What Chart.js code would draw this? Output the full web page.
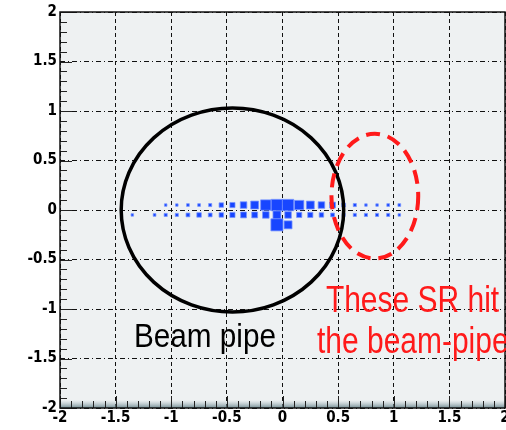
<!DOCTYPE html>
<html>
<head>
<meta charset="utf-8">
<script src="https://cdn.jsdelivr.net/npm/chart.js@4.4.0/dist/chart.umd.min.js"></script>
<style>
html, body { margin: 0; padding: 0; background: #fff; }
canvas { display: block; }
</style>
</head>
<body>
<canvas id="myChart" width="506" height="430"></canvas>
<script>
// axis ticks
var xTicks = [-2, -1.5, -1, -0.5, 0, 0.5, 1, 1.5, 2];
var yTicks = [-2, -1.5, -1, -0.5, 0, 0.5, 1, 1.5, 2];
var binWidth = 0.1;

// hit bins, row at y = +0.05
var upperX = [-1.05, -0.95, -0.85, -0.75, -0.65, -0.55, -0.45, -0.35, -0.25, -0.15, -0.05,
              0.05, 0.15, 0.25, 0.35, 0.45, 0.55, 0.65, 0.75, 0.85, 0.95, 1.05];
var upperHits = [4, 2, 5, 5, 6, 10, 12, 16, 20, 27, 30,
                 30, 24, 20, 16, 14, 8, 6, 4, 3, 5, 5];

// row at y = -0.05
var lowerX = [-1.35, -1.15, -1.05, -0.95, -0.85, -0.75, -0.65, -0.55, -0.45, -0.35, -0.25, -0.15, -0.05,
              0.05, 0.15, 0.25, 0.35, 0.45, 0.55, 0.65, 0.75, 0.85, 0.95, 1.05];
var lowerHits = [4, 5, 6, 6, 8, 10, 8, 10, 12, 14, 14, 16, 20,
                 16, 12, 12, 10, 8, 6, 6, 6, 6, 6, 4];

// row at y = -0.15
var bottomX = [-0.05, 0.05];
var bottomHits = [32, 20];

var rowY = [0.05, -0.05, -0.15];

var beamPipe = { x: -0.45, y: 0, rx: 1.0, ry: 1.03 };
var srSpot = { x: 0.83, y: 0.14, rx: 0.39, ry: 0.63 };

var beamLabel = { text: "Beam pipe", x: -1.335, y: -1.384 };
var srLabel1 = { text: "These SR hit", x: 0.39, y: -1.03 };
var srLabel2 = { text: "the beam-pipe", x: 0.31, y: -1.445 };

var maxHits = Math.max.apply(null, upperHits.concat(lowerHits, bottomHits));

function toPoints(xs, hits, y) {
	var pts = [];
	for (var i = 0; i < xs.length; i++) {
		pts.push({ x: xs[i], y: y, h: hits[i] });
	}
	return pts;
}

var allPoints = toPoints(upperX, upperHits, rowY[0])
	.concat(toPoints(lowerX, lowerHits, rowY[1]))
	.concat(toPoints(bottomX, bottomHits, rowY[2]));

var tickFont = { family: "'Liberation Sans Narrow', 'DejaVu Sans Condensed', 'Liberation Sans', sans-serif", size: 15, weight: 'bold' };

// box size follows the bin content
function boxRadius(ctx) {
	var sx = ctx.chart.scales.x;
	var bw = Math.abs(sx.getPixelForValue(binWidth) - sx.getPixelForValue(0));
	var side = 1 + Math.max(1.5, ctx.raw.h / maxHits * bw);
	return side / Math.SQRT2;
}

var framePlugin = {
	id: 'frame',
	beforeDraw: function(chart) {
		var a = chart.chartArea, c = chart.ctx;
		c.save();
		c.fillStyle = '#eef1f2';
		c.fillRect(a.left, a.top, a.right - a.left, a.bottom - a.top);
		c.restore();
	},
	beforeDatasetsDraw: function(chart) {
		var a = chart.chartArea, c = chart.ctx;
		c.save();
		var g = c.createLinearGradient(0, a.bottom - 8, 0, a.bottom);
		g.addColorStop(0, 'rgba(160,180,185,0)');
		g.addColorStop(1, 'rgba(90,120,128,0.85)');
		c.fillStyle = g;
		c.fillRect(a.left, a.bottom - 8, a.right - a.left, 8);
		c.restore();
	},
	afterDatasetsDraw: function(chart) {
		var a = chart.chartArea, c = chart.ctx;
		var sx = chart.scales.x, sy = chart.scales.y;
		c.save();
		c.strokeStyle = '#222';
		c.lineWidth = 1;
		c.beginPath();
		for (var k = -20; k <= 20; k++) {
			var len = (k % 5 === 0) ? 12 : 7;
			var px = Math.round(sx.getPixelForValue(k / 10)) + 0.5;
			c.moveTo(px, a.bottom);
			c.lineTo(px, a.bottom - len);
			var py = Math.round(sy.getPixelForValue(k / 10)) + 0.5;
			c.moveTo(a.left, py);
			c.lineTo(a.left + len, py);
		}
		c.stroke();

		c.strokeStyle = '#111';
		c.lineWidth = 1.5;
		c.strokeRect(a.left, a.top, a.right - a.left, a.bottom - a.top);

		// beam pipe outline
		var cx = sx.getPixelForValue(beamPipe.x), cy = sy.getPixelForValue(beamPipe.y);
		var rx = Math.abs(sx.getPixelForValue(beamPipe.x + beamPipe.rx) - cx);
		var ry = Math.abs(sy.getPixelForValue(beamPipe.y + beamPipe.ry) - cy);
		c.strokeStyle = '#000';
		c.lineWidth = 3.5;
		c.beginPath();
		c.ellipse(cx, cy, rx, ry, 0, 0, Math.PI * 2);
		c.stroke();

		// SR hit region
		cx = sx.getPixelForValue(srSpot.x); cy = sy.getPixelForValue(srSpot.y);
		rx = Math.abs(sx.getPixelForValue(srSpot.x + srSpot.rx) - cx);
		ry = Math.abs(sy.getPixelForValue(srSpot.y + srSpot.ry) - cy);
		c.strokeStyle = '#ff1a1a';
		c.lineWidth = 4;
		c.setLineDash([14, 8]);
		c.beginPath();
		c.ellipse(cx, cy, rx, ry, 0, 0, Math.PI * 2);
		c.stroke();
		c.setLineDash([]);
		c.restore();
	},
	afterDraw: function(chart) {
		var sx = chart.scales.x, sy = chart.scales.y, c = chart.ctx;
		function label(l, size, sc, color) {
			c.save();
			c.translate(sx.getPixelForValue(l.x), sy.getPixelForValue(l.y));
			c.scale(sc, 1);
			c.font = size + "px 'Liberation Sans', Arial, sans-serif";
			c.fillStyle = color;
			c.textBaseline = 'alphabetic';
			c.textAlign = 'left';
			c.fillText(l.text, 0, 0);
			c.restore();
		}
		label(beamLabel, 33, 0.9, '#000');
		label(srLabel1, 37, 0.81, '#ff1a1a');
		label(srLabel2, 37, 0.81, '#ff1a1a');
	}
};

var ctx = document.getElementById("myChart").getContext("2d");
var myChart = new Chart(ctx, {
	type: 'scatter',
	data: {
		datasets: [{
			data: allPoints,
			pointStyle: 'rect',
			pointRadius: boxRadius,
			pointHoverRadius: boxRadius,
			backgroundColor: '#1846ff',
			borderColor: 'rgba(120,150,255,0.75)',
			borderWidth: 1
		}]
	},
	options: {
		responsive: false,
		animation: false,
		events: [],
		layout: { padding: { top: 12, right: 1, left: 0, bottom: 0 } },
		plugins: { legend: { display: false }, tooltip: { enabled: false } },
		scales: {
			x: {
				type: 'linear', min: -2, max: 2,
				afterBuildTicks: function(s) { s.ticks = xTicks.map(function(v) { return { value: v }; }); },
				ticks: { callback: function(v) { return String(v); }, font: tickFont, color: '#000', padding: 1, maxRotation: 0, autoSkip: false },
				grid: { color: '#111', lineWidth: 1, drawTicks: false },
				border: { display: false, dash: [4, 3] },
				afterFit: function(s) { s.height = 22; s.paddingLeft = 0; s.paddingRight = 0; }
			},
			y: {
				type: 'linear', min: -2, max: 2,
				afterBuildTicks: function(s) { s.ticks = yTicks.map(function(v) { return { value: v }; }); },
				ticks: { callback: function(v) { return String(v); }, font: tickFont, color: '#000', padding: 3, autoSkip: false },
				grid: { color: '#111', lineWidth: 1, drawTicks: false },
				border: { display: false, dash: [5, 3, 1, 3] },
				afterFit: function(s) { s.width = 60; s.paddingTop = 0; s.paddingBottom = 0; }
			}
		}
	},
	plugins: [framePlugin]
});
</script>
</body>
</html>
